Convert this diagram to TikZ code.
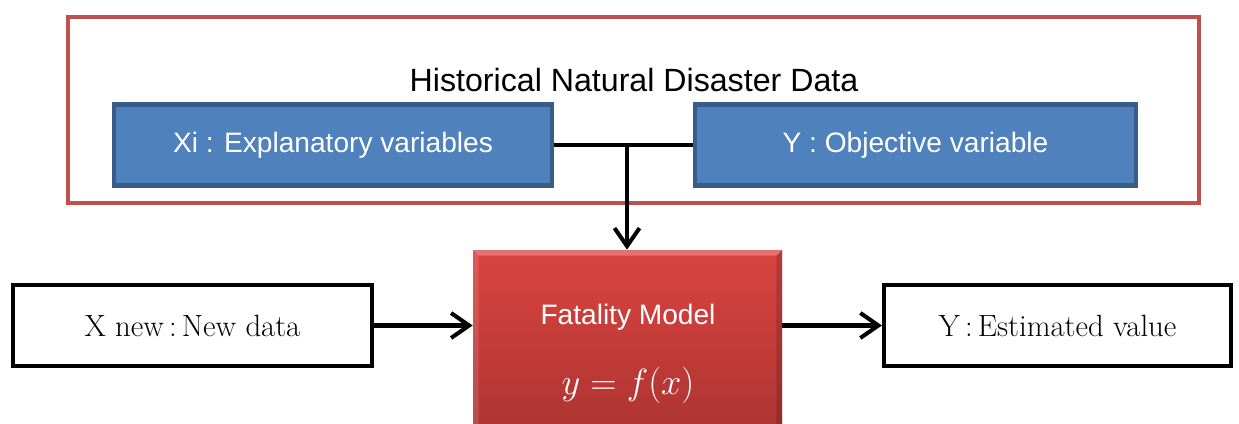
\documentclass[tikz,border=0pt]{standalone}
\usepackage{fontspec}
\newfontfamily\arial{Liberation Sans}
\usetikzlibrary{arrows.meta}
\tikzset{>={Straight Barb[length=3.6mm,width=5mm,line width=2.3pt]}}
\definecolor{myframered}{RGB}{192,80,77}
\definecolor{myblue}{RGB}{79,129,189}
\definecolor{mydarkblue}{RGB}{56,93,138}
\definecolor{mymodeltop}{RGB}{218,68,64}
\definecolor{mymodelbot}{RGB}{172,52,49}

\begin{document}
\begin{tikzpicture}[
    varbox/.style={draw=mydarkblue,line width=2.4pt,fill=myblue,text=white,
      font=\arial\fontsize{16}{18}\selectfont,minimum height=1.62cm},
    iobox/.style={draw=black,line width=2.4pt,fill=white,
      font=\fontsize{17.5}{20}\selectfont,minimum height=1.62cm},
    link/.style={line width=2.3pt}
  ]
  
  % page size
  \clip (0,0) rectangle (24.78,-8.46);
  
  % data frame
  \node[draw=myframered,line width=2.3pt,minimum width=22.62cm,minimum height=3.72cm]
    (frame) at (12.67,-2.2) {};
  \node[font=\arial\fontsize{18.3}{21}\selectfont] (title) at (12.68,-1.6)
    {Historical Natural Disaster Data};
  \node[varbox,minimum width=8.76cm] (xi) at (6.66,-2.9) {Xi : Explanatory variables};
  \node[varbox,minimum width=8.82cm] (yobj) at (18.31,-2.9) {Y : Objective variable};
  
  % model, with a bevelled edge
  \node[top color=mymodeltop,bottom color=mymodelbot,minimum width=6.18cm,
    minimum height=3.7cm] (model) at (12.55,-6.85) {};
  \fill[white,opacity=0.25] (model.north west) -- (model.north east)
    -- ++(-0.12,-0.12) -- ([shift={(0.12,-0.12)}]model.north west) -- cycle;
  \fill[white,opacity=0.12] (model.north west) -- ([shift={(0.12,-0.12)}]model.north west)
    -- ([shift={(0.12,0)}]model.south west) -- (model.south west) -- cycle;
  \fill[black,opacity=0.15] (model.north east) -- ([shift={(-0.12,-0.12)}]model.north east)
    -- ([shift={(-0.12,0)}]model.south east) -- (model.south east) -- cycle;
  \node[text=white,font=\arial\fontsize{16}{18}\selectfont] (mname) at (12.56,-6.34)
    {Fatality Model};
  \node[text=white,font=\fontsize{22}{24}\selectfont] (mfun) at (12.56,-7.7) {$y=f(x)$};
  
  % input and output
  \node[iobox,minimum width=7.18cm] (xnew) at (3.85,-6.51) {X new\,:\,New data};
  \node[iobox,minimum width=6.94cm] (yest) at (21.15,-6.51) {Y\,:\,Estimated value};
  
  % connectors
  \coordinate (join) at (12.54,-2.94);
  \draw[link] (xi.east) -- (yobj.west);
  \draw[link,->] (join) -- (join |- model.north);
  \draw[link,->] (xnew.east) -- (xnew.east -| model.west);
  \draw[link,->] (yest.west -| model.east) -- (yest.west);
  
\end{tikzpicture}
\end{document}
